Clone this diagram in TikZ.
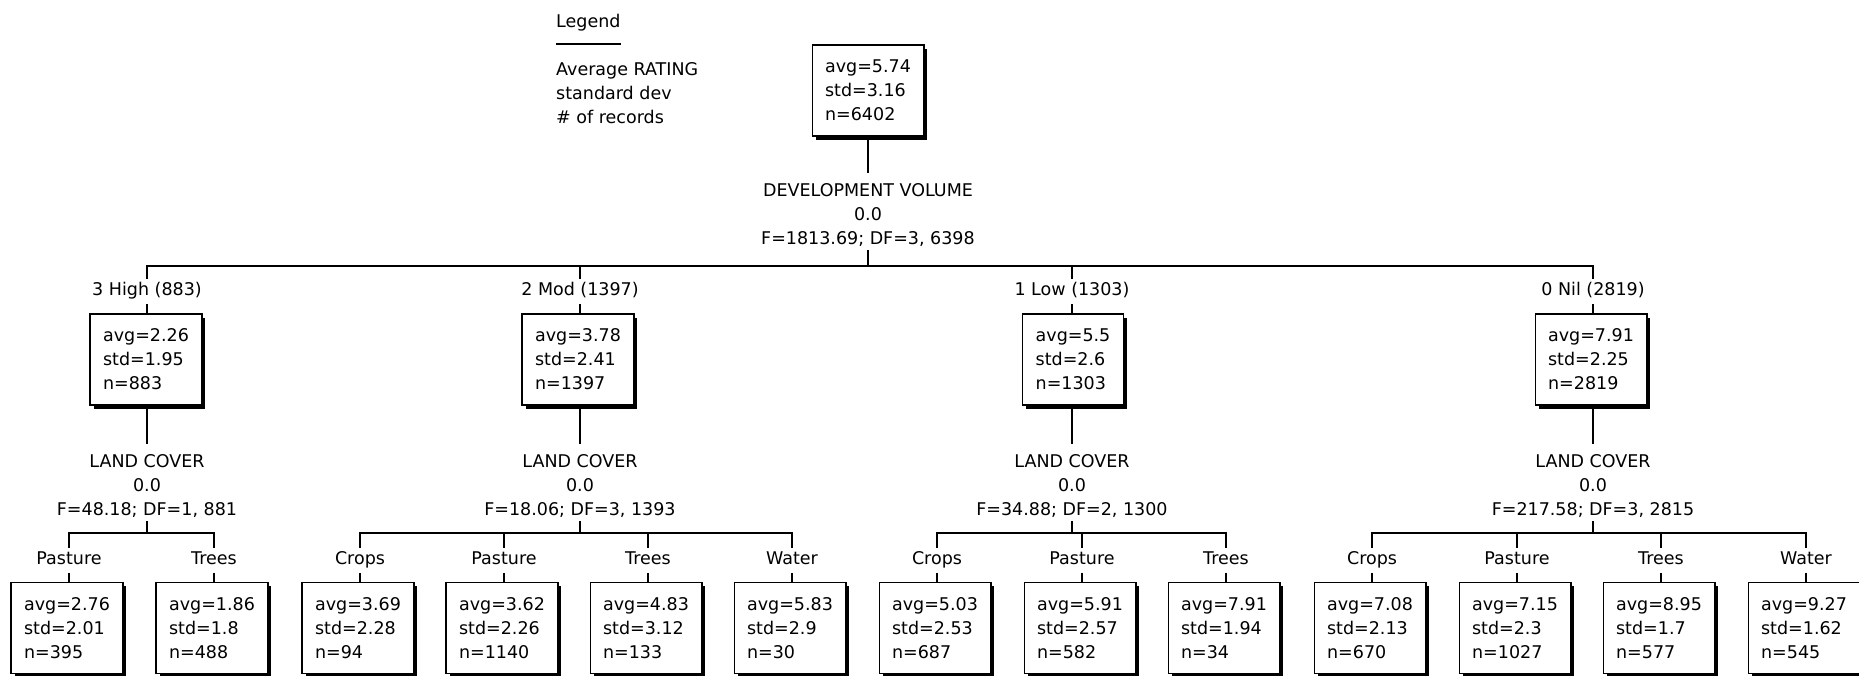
\documentclass[tikz,border=0pt]{standalone}
\usepackage{fontspec}
\setmainfont{DejaVu Sans}
\usetikzlibrary{shadows}
\def\wLine{1.2pt}
\tikzset{
  tree/.style={font=\fontsize{17.5pt}{24pt}\selectfont, x=1pt, y=-1pt},
  stat/.style={draw=black, line width=\wLine, fill=white, align=left, inner xsep=13pt, inner ysep=0pt,
    minimum height=91pt, execute at begin node={\rule{0pt}{20pt}},
    drop shadow={shadow xshift=3.5pt, shadow yshift=-3.5pt, fill=black, opacity=1}},
  split/.style={align=center, inner sep=3pt},
  branch/.style={text height=13pt, text depth=4pt, inner xsep=2pt, inner ysep=4pt},
  link/.style={draw=black, line width=\wLine},
}

\begin{document}
\begin{tikzpicture}[tree]
% canvas in pixels of the 1859x675 original, y runs downward
\useasboundingbox[fill=white] (0,0) rectangle (1859,675);

% legend
\node[anchor=base west, inner sep=0pt] (legT) at (556, 27) {Legend};
\draw[link] ([yshift=-17pt]legT.base west) -- ([yshift=-17pt]legT.base east);
\node[anchor=north west, align=left, inner sep=0pt] (legB) at (556, 62.6) {Average RATING\\standard dev\\\# of records};

% root
\node[stat] (root) at (868, 90.5) {avg=5.74\\std=3.16\\n=6402};
\node[split] (rootT) at (868, 215.2) {DEVELOPMENT VOLUME\\0.0\\F=1813.69; DF=3, 6398};
\coordinate (rootB) at (868, 266);

% level 1: development volume
\node[branch] (hi)  at (147, 291.2)  {3 High (883)};
\node[branch] (mod) at (580, 291.2)  {2 Mod (1397)};
\node[branch] (low) at (1072, 291.2) {1 Low (1303)};
\node[branch] (nil) at (1593, 291.2) {0 Nil (2819)};

\node[stat] (hiS)  at (146, 359.5)  {avg=2.26\\std=1.95\\n=883};
\node[stat] (modS) at (578, 359.5)  {avg=3.78\\std=2.41\\n=1397};
\node[stat] (lowS) at (1073, 359.5) {avg=5.5\\std=2.6\\n=1303};
\node[stat] (nilS) at (1591, 359.5) {avg=7.91\\std=2.25\\n=2819};

\node[split] (hiT)  at (147, 486.5)  {LAND COVER\\0.0\\F=48.18; DF=1, 881};
\node[split] (modT) at (580, 486.5)  {LAND COVER\\0.0\\F=18.06; DF=3, 1393};
\node[split] (lowT) at (1072, 486.5) {LAND COVER\\0.0\\F=34.88; DF=2, 1300};
\node[split] (nilT) at (1593, 486.5) {LAND COVER\\0.0\\F=217.58; DF=3, 2815};

\coordinate (hiB)  at (147, 533);
\coordinate (modB) at (580, 533);
\coordinate (lowB) at (1072, 533);
\coordinate (nilB) at (1593, 533);

% level 2: land cover
\node[branch] (hiPa)  at (69, 560.2)   {Pasture};
\node[branch] (hiTr)  at (214, 560.2)  {Trees};
\node[branch] (modCr) at (360, 560.2)  {Crops};
\node[branch] (modPa) at (504, 560.2)  {Pasture};
\node[branch] (modTr) at (648, 560.2)  {Trees};
\node[branch] (modWa) at (792, 560.2)  {Water};
\node[branch] (lowCr) at (937, 560.2)  {Crops};
\node[branch] (lowPa) at (1082, 560.2) {Pasture};
\node[branch] (lowTr) at (1226, 560.2) {Trees};
\node[branch] (nilCr) at (1372, 560.2) {Crops};
\node[branch] (nilPa) at (1517, 560.2) {Pasture};
\node[branch] (nilTr) at (1661, 560.2) {Trees};
\node[branch] (nilWa) at (1806, 560.2) {Water};

\node[stat] (hiPaS)  at (67, 628)   {avg=2.76\\std=2.01\\n=395};
\node[stat] (hiTrS)  at (212, 628)  {avg=1.86\\std=1.8\\n=488};
\node[stat] (modCrS) at (358, 628)  {avg=3.69\\std=2.28\\n=94};
\node[stat] (modPaS) at (502, 628)  {avg=3.62\\std=2.26\\n=1140};
\node[stat] (modTrS) at (646, 628)  {avg=4.83\\std=3.12\\n=133};
\node[stat] (modWaS) at (790, 628)  {avg=5.83\\std=2.9\\n=30};
\node[stat] (lowCrS) at (935, 628)  {avg=5.03\\std=2.53\\n=687};
\node[stat] (lowPaS) at (1080, 628) {avg=5.91\\std=2.57\\n=582};
\node[stat] (lowTrS) at (1224, 628) {avg=7.91\\std=1.94\\n=34};
\node[stat] (nilCrS) at (1370, 628) {avg=7.08\\std=2.13\\n=670};
\node[stat] (nilPaS) at (1515, 628) {avg=7.15\\std=2.3\\n=1027};
\node[stat] (nilTrS) at (1659, 628) {avg=8.95\\std=1.7\\n=577};
\node[stat] (nilWaS) at (1804, 628) {avg=9.27\\std=1.62\\n=545};

% root split
\draw[link, shorten >=7pt] (root.south) -- (rootT.north);
\draw[link] (rootT.south) -- (rootB);
\draw[link] (hi.north) |- (rootB);
\draw[link] (mod.north) |- (rootB);
\draw[link] (low.north) |- (rootB);
\draw[link] (nil.north) |- (rootB);

% branch to stats to split
\draw[link] (hi.south) -- (hi.south |- hiS.north);
\draw[link] (mod.south) -- (mod.south |- modS.north);
\draw[link] (low.south) -- (low.south |- lowS.north);
\draw[link] (nil.south) -- (nil.south |- nilS.north);
\draw[link, shorten >=8pt] (hiS.south -| hiT.north) -- (hiT.north);
\draw[link, shorten >=8pt] (modS.south -| modT.north) -- (modT.north);
\draw[link, shorten >=8pt] (lowS.south -| lowT.north) -- (lowT.north);
\draw[link, shorten >=8pt] (nilS.south -| nilT.north) -- (nilT.north);
\draw[link] (hiT.south) -- (hiB);
\draw[link] (modT.south) -- (modB);
\draw[link] (lowT.south) -- (lowB);
\draw[link] (nilT.south) -- (nilB);

% land cover bars
\draw[link] (hiPa.north) |- (hiB);
\draw[link] (hiTr.north) |- (hiB);
\draw[link] (modCr.north) |- (modB);
\draw[link] (modPa.north) |- (modB);
\draw[link] (modTr.north) |- (modB);
\draw[link] (modWa.north) |- (modB);
\draw[link] (lowCr.north) |- (lowB);
\draw[link] (lowPa.north) |- (lowB);
\draw[link] (lowTr.north) |- (lowB);
\draw[link] (nilCr.north) |- (nilB);
\draw[link] (nilPa.north) |- (nilB);
\draw[link] (nilTr.north) |- (nilB);
\draw[link] (nilWa.north) |- (nilB);

% leaf stubs
\draw[link] (hiPa.south) -- (hiPa.south |- hiPaS.north);
\draw[link] (hiTr.south) -- (hiTr.south |- hiTrS.north);
\draw[link] (modCr.south) -- (modCr.south |- modCrS.north);
\draw[link] (modPa.south) -- (modPa.south |- modPaS.north);
\draw[link] (modTr.south) -- (modTr.south |- modTrS.north);
\draw[link] (modWa.south) -- (modWa.south |- modWaS.north);
\draw[link] (lowCr.south) -- (lowCr.south |- lowCrS.north);
\draw[link] (lowPa.south) -- (lowPa.south |- lowPaS.north);
\draw[link] (lowTr.south) -- (lowTr.south |- lowTrS.north);
\draw[link] (nilCr.south) -- (nilCr.south |- nilCrS.north);
\draw[link] (nilPa.south) -- (nilPa.south |- nilPaS.north);
\draw[link] (nilTr.south) -- (nilTr.south |- nilTrS.north);
\draw[link] (nilWa.south) -- (nilWa.south |- nilWaS.north);
\end{tikzpicture}
\end{document}
